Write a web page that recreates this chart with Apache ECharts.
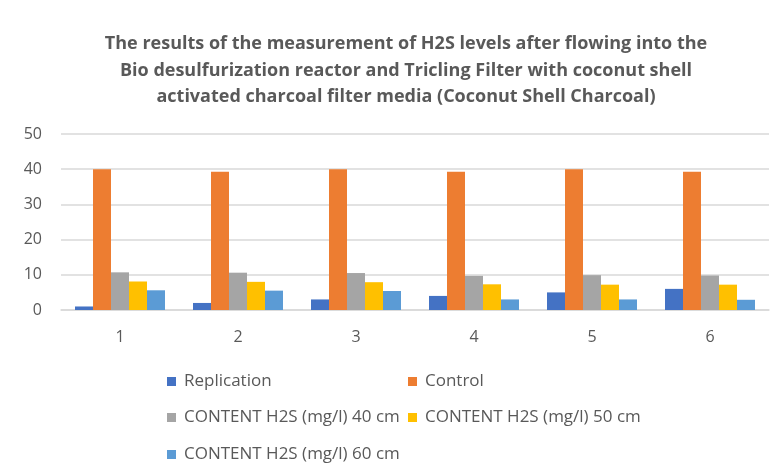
<!DOCTYPE html>
<html><head><meta charset="utf-8">
<script src="https://cdn.jsdelivr.net/npm/echarts@6/dist/echarts.min.js"></script>
<style>html,body{margin:0;padding:0;background:#fff}#c{width:781px;height:476px}</style>
</head><body><div id="c"></div>
<script>
var categories = ['1','2','3','4','5','6'];
var seriesNames = ['Replication','Control','CONTENT H2S (mg/l) 40 cm','CONTENT H2S (mg/l) 50 cm','CONTENT H2S (mg/l) 60 cm'];
var replication = [1,2,3,4,5,6];
var control = [40,39.3,40,39.3,40,39.3];
var h2s40 = [10.7,10.6,10.5,9.7,9.9,9.8];
var h2s50 = [8.1,8.0,7.9,7.3,7.2,7.2];
var h2s60 = [5.6,5.5,5.4,3.0,3.0,2.9];
var colors = ['#4472C4','#ED7D31','#A5A5A5','#FFC000','#5B9BD5'];
var titleText = 'The results of the measurement of H2S levels after flowing into the\nBio desulfurization reactor and Tricling Filter with coconut shell\nactivated charcoal filter media (Coconut Shell Charcoal)';

var FONT = 'Open Sans';
var values = [replication, control, h2s40, h2s50, h2s60];
var legendPos = [[162,368],[403,368],[162,404],[403,404],[162,441]];
var legends = seriesNames.map(function(n,i){
  return {data:[n], left:legendPos[i][0], top:legendPos[i][1], itemWidth:9, itemHeight:9, icon:'rect', itemGap:0,
    textStyle:{fontFamily:FONT, fontSize:17, color:'#595959', padding:[0,0,0,3]}};
});
var chart = echarts.init(document.getElementById('c'));
chart.setOption({
  animation:false,
  color:colors,
  title:{text:titleText, left:401, top:26, textAlign:'center', textStyle:{fontFamily:FONT, fontWeight:'bold', fontSize:18, color:'#595959', lineHeight:26.5}},
  legend:legends,
  grid:{left:61, right:12, top:134, height:176},
  xAxis:{type:'category', data:categories, axisTick:{show:false}, axisLine:{lineStyle:{color:'#d9d9d9', width:1.5}},
    axisLabel:{fontFamily:FONT, fontSize:16, color:'#595959', margin:19}},
  yAxis:{type:'value', min:0, max:50, interval:10, axisLine:{show:false}, axisTick:{show:false},
    splitLine:{lineStyle:{color:'#d9d9d9', width:1.5}},
    axisLabel:{fontFamily:FONT, fontSize:16, color:'#595959', margin:19}},
  series:seriesNames.map(function(n,i){
    return {name:n, type:'bar', data:values[i], barWidth:18, barGap:'0%'};
  })
});
</script></body></html>
